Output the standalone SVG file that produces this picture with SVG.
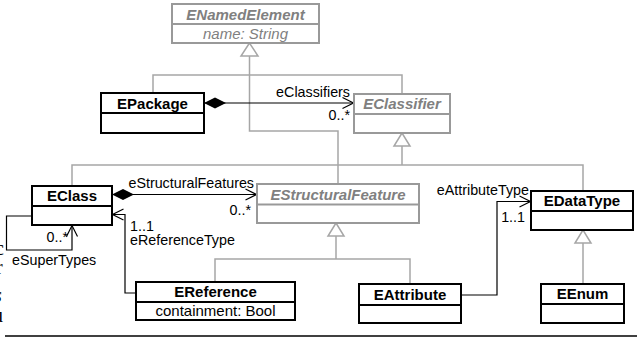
<svg xmlns="http://www.w3.org/2000/svg" width="637" height="338" viewBox="0 0 637 338">
<style>
.box{fill:#fff;stroke:#000;stroke-width:2}
.abox{fill:#fff;stroke:#999;stroke-width:2}
.div{stroke:#000;stroke-width:2}
.adiv{stroke:#999;stroke-width:2}
.t{font-family:"Liberation Sans",Arial,sans-serif;font-size:15px;fill:#000;text-anchor:middle}
.b{font-weight:bold}
.at{font-family:"Liberation Sans",Arial,sans-serif;font-size:15px;fill:#808080;text-anchor:middle;font-style:italic}
.lbl{font-family:"Liberation Sans",Arial,sans-serif;font-size:14.3px;fill:#000}
.assoc{fill:none;stroke:#000;stroke-width:1.2}
.gen{fill:none;stroke:#a6a6a6;stroke-width:1.5}
.tri{fill:#fff;stroke:#a6a6a6;stroke-width:1.5}
.frag{font-family:"Liberation Serif","Times New Roman",serif;font-size:20px;fill:#000}
</style>
<defs>
<marker id="open" markerUnits="userSpaceOnUse" markerWidth="14" markerHeight="14" refX="11" refY="6" orient="auto" overflow="visible">
<path d="M0,0.5 L11,6 L0,11.5" fill="none" stroke="#000" stroke-width="1.2"/>
</marker>
<marker id="diamond" markerUnits="userSpaceOnUse" markerWidth="24" markerHeight="12" refX="0" refY="5.5" orient="auto" overflow="visible">
<path d="M0,5.5 L11,0 L22,5.5 L11,11 Z" fill="#000"/>
</marker>
</defs>

<g id="connectors">
<path class="gen" d="M249.5,56 V131 H338 V184"/>
<path class="gen" d="M153,93 V75 H402 V94"/>
<polygon class="tri" points="249.5,43 241,56 258,56"/>
<path class="gen" d="M402,146 V165"/>
<path class="gen" d="M72,186 V165 H583 V191"/>
<polygon class="tri" points="402,133 394,146 410,146"/>
<path class="gen" d="M336,236 V259"/>
<path class="gen" d="M215,282 V259 H410 V284"/>
<polygon class="tri" points="336,223 328,236 344,236"/>
<path class="gen" d="M583,243 V284"/>
<polygon class="tri" points="583,230 575,243 591,243"/>

<path class="assoc" d="M204,103 H353.5" marker-start="url(#diamond)" marker-end="url(#open)"/>
<text class="lbl" x="350" y="97" text-anchor="end">eClassifiers</text>
<text class="lbl" x="350" y="120" text-anchor="end">0..*</text>

<path class="assoc" d="M112,194.5 H256.5" marker-start="url(#diamond)" marker-end="url(#open)"/>
<text class="lbl" x="254" y="188" text-anchor="end">eStructuralFeatures</text>
<text class="lbl" x="251" y="215" text-anchor="end">0..*</text>

<path class="assoc" d="M32,216 H6.5 V250 H72 V225.5" marker-end="url(#open)"/>
<text class="lbl" x="68" y="241.5" text-anchor="end">0..*</text>
<text class="lbl" x="12" y="265">eSuperTypes</text>

<path class="assoc" d="M136,293 H125 V214.5 H112.5" marker-end="url(#open)"/>
<text class="lbl" x="130" y="230.5">1..1</text>
<text class="lbl" x="130" y="245">eReferenceType</text>

<path class="assoc" d="M461,295 H497 V201.5 H530.5" marker-end="url(#open)"/>
<text class="lbl" x="529" y="194.5" text-anchor="end">eAttributeType</text>
<text class="lbl" x="525" y="221.5" text-anchor="end">1..1</text>
</g>

<g id="ENamedElement">
<rect class="abox" x="172" y="4" width="147" height="39"/>
<line class="adiv" x1="172" y1="24" x2="319" y2="24"/>
<text class="at b" x="245.5" y="19.5">ENamedElement</text>
<text class="at" x="245.5" y="39">name: String</text>
</g>

<g id="EPackage">
<rect class="box" x="101" y="93" width="103" height="40"/>
<line class="div" x1="101" y1="113" x2="204" y2="113"/>
<text class="t b" x="152.5" y="108.5">EPackage</text>
</g>

<g id="EClassifier">
<rect class="abox" x="354" y="94" width="96" height="39"/>
<line class="adiv" x1="354" y1="114" x2="450" y2="114"/>
<text class="at b" x="402" y="109">EClassifier</text>
</g>

<g id="EClass">
<rect class="box" x="32" y="186" width="80" height="39"/>
<line class="div" x1="32" y1="206" x2="112" y2="206"/>
<text class="t b" x="72" y="201">EClass</text>
</g>

<g id="EStructuralFeature">
<rect class="abox" x="257" y="184" width="162" height="39"/>
<line class="adiv" x1="257" y1="204.5" x2="419" y2="204.5"/>
<text class="at b" x="338" y="199.5">EStructuralFeature</text>
</g>

<g id="EDataType">
<rect class="box" x="531" y="191" width="102" height="39"/>
<line class="div" x1="531" y1="211" x2="633" y2="211"/>
<text class="t b" x="582" y="206">EDataType</text>
</g>

<g id="EReference">
<rect class="box" x="136" y="282" width="159" height="38"/>
<line class="div" x1="136" y1="302" x2="295" y2="302"/>
<text class="t b" x="215.5" y="297">EReference</text>
<text class="t" x="215.5" y="316">containment: Bool</text>
</g>

<g id="EAttribute">
<rect class="box" x="359" y="284" width="102" height="39"/>
<line class="div" x1="359" y1="305" x2="461" y2="305"/>
<text class="t b" x="410" y="300">EAttribute</text>
</g>

<g id="EEnum">
<rect class="box" x="541" y="284" width="83" height="39"/>
<line class="div" x1="541" y1="304" x2="624" y2="304"/>
<text class="t b" x="582.5" y="299">EEnum</text>
</g>

<line x1="5" y1="336" x2="637" y2="336" stroke="#000" stroke-width="1.5"/>
<text class="frag" x="-5" y="255">c</text>
<text class="frag" x="-4" y="274">r</text>
<text class="frag" x="-6" y="302" font-style="italic">s</text>
<text class="frag" x="-7" y="322">u</text>
</svg>
